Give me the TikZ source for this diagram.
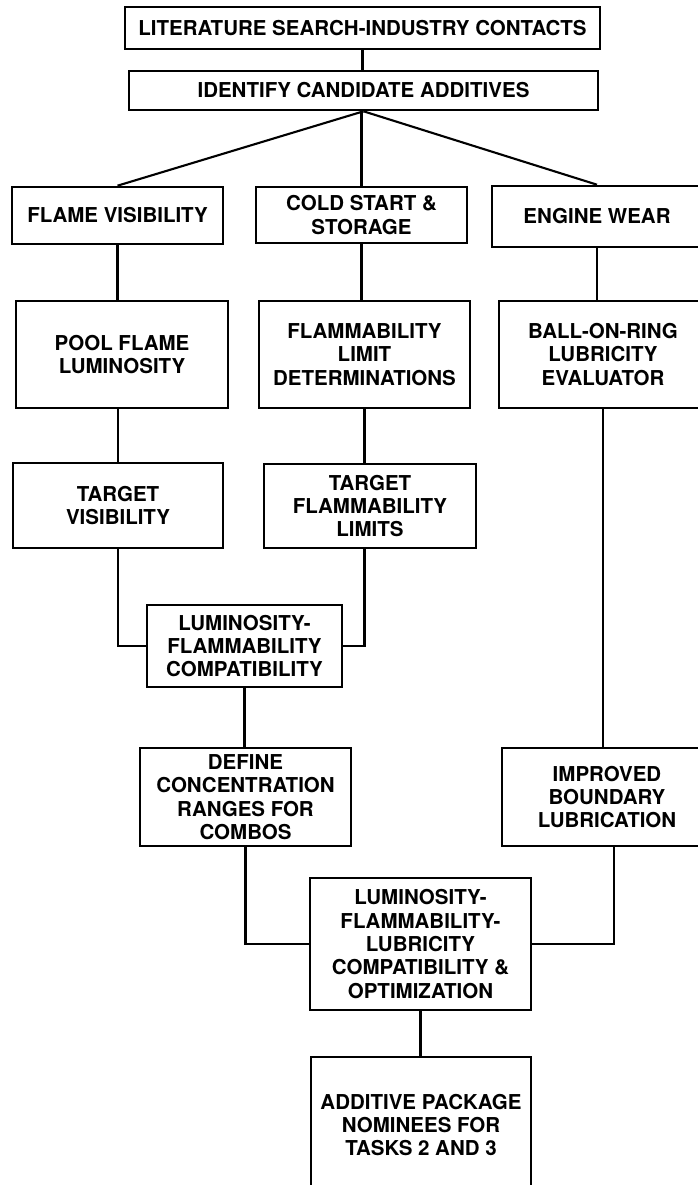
\documentclass[tikz,border=0pt]{standalone}
\usepackage{fontspec}
\setmainfont{TeX Gyre Heros}
\usetikzlibrary{calc}
\tikzset{
  box/.style={draw=black, line width=2.6pt, rectangle, align=center, inner sep=0pt,
    font=\fontsize{20.5}{23.3}\selectfont\bfseries},
  conn/.style={draw=black, line width=2.1pt}
}
\begin{document}
\begin{tikzpicture}[x=1pt, y=-1pt]
\useasboundingbox (0,0) rectangle (698,1185);
\clip (0,0) rectangle (698,1185);
\fill[white] (0,0) rectangle (698,1185);

\node[box, minimum width=475pt, minimum height=42pt] (lit) at (362.5,28) {LITERATURE SEARCH-INDUSTRY CONTACTS};
\node[box, minimum width=469pt, minimum height=39pt] (ida) at (363.5,90.5) {IDENTIFY CANDIDATE ADDITIVES};

\node[box, minimum width=211pt, minimum height=57pt] (fv) at (117.5,215.5) {FLAME VISIBILITY};
\node[box, minimum width=211pt, minimum height=56pt] (cs) at (361.5,215) {COLD START \&\\STORAGE};
\node[box, minimum width=210pt, minimum height=61pt] (ew) at (597,216.5) {ENGINE WEAR};

\node[box, minimum width=212pt, minimum height=107pt] (pf) at (122,354.5) {POOL FLAME\\LUMINOSITY};
\node[box, minimum width=211pt, minimum height=107pt] (fl) at (364.5,354.5) {FLAMMABILITY\\LIMIT\\DETERMINATIONS};
\node[box, minimum width=208pt, minimum height=107pt] (br) at (603,354.5) {BALL-ON-RING\\LUBRICITY\\EVALUATOR};

\node[box, minimum width=210pt, minimum height=85pt] (tv) at (118,505.5) {TARGET\\VISIBILITY};
\node[box, minimum width=212pt, minimum height=84pt] (tf) at (370,506) {TARGET\\FLAMMABILITY\\LIMITS};

\node[box, minimum width=195pt, minimum height=82pt] (lf) at (244.5,646) {LUMINOSITY-\\FLAMMABILITY\\COMPATIBILITY};

\node[box, minimum width=211pt, minimum height=98pt] (dc) at (245.5,797) {DEFINE\\CONCENTRATION\\RANGES FOR\\COMBOS};
\node[box, minimum width=210pt, minimum height=98pt] (ib) at (607,797) {IMPROVED\\BOUNDARY\\LUBRICATION};

\node[box, minimum width=221pt, minimum height=132pt] (lfl) at (420.5,944) {LUMINOSITY-\\FLAMMABILITY-\\LUBRICITY\\COMPATIBILITY \&\\OPTIMIZATION};

\node[box, minimum width=220pt, minimum height=136pt] (ap) at (421,1125) {ADDITIVE PACKAGE\\NOMINEES FOR\\TASKS 2 AND 3};

% connectors
\draw[conn] (lit.south) -- (lit.south |- ida.north);
\draw[conn] (ida.south) -- (fv.north);
\draw[conn] (cs.north) -- (cs.north |- ida.south);
\draw[conn] (ida.south) -- (ew.north);
\draw[conn] (fv.south) -- (fv.south |- pf.north);
\draw[conn] (cs.south) -- (cs.south |- fl.north);
\draw[conn] (ew.south) -- (ew.south |- br.north);
\draw[conn] (tv.north |- pf.south) -- (tv.north);
\draw[conn] (fl.south) -- (fl.south |- tf.north);
\draw[conn] (br.south) -- (br.south |- ib.north);
\draw[conn] (tv.south) |- (lf.west);
\draw[conn] (tf.south -| fl.south) |- (lf.east);
\draw[conn] (lf.south) -- (lf.south |- dc.north);
\draw[conn] (dc.south) |- (lfl.west);
\draw[conn] ($(ib.south)+(7,0)$) |- (lfl.east);
\draw[conn] (lfl.south) -- (lfl.south |- ap.north);
\end{tikzpicture}
\end{document}
